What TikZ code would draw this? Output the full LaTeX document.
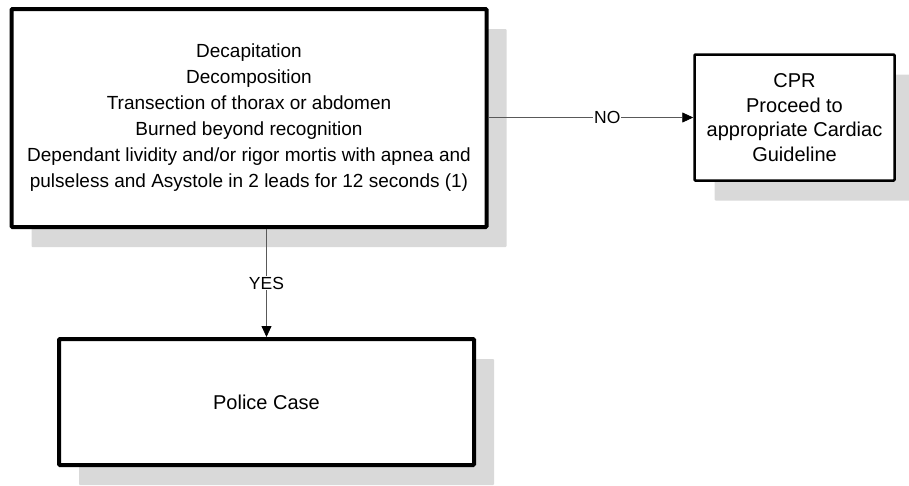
\documentclass[tikz,border=0pt]{standalone}
\usepackage{fontspec}
\setmainfont{Liberation Sans}
\usetikzlibrary{arrows.meta,shadows}

\begin{document}
\begin{tikzpicture}[x=1pt,y=-1pt,
		box/.style={draw,line width=4pt,rounded corners=1pt,fill=white,align=center,inner sep=0pt,
			drop shadow={shadow xshift=20pt,shadow yshift=-20pt,fill=black!15,opacity=1}},
		conn/.style={black!65,line width=0.8pt,-{Triangle[length=11pt,width=10pt,color=black]}},
		lbl/.style={fill=white,inner sep=1pt,text=black,font=\fontsize{17.5}{20}\selectfont}]
		\useasboundingbox (0,0) rectangle (909,485);
		% boxes
		\node[box,minimum width=475pt,minimum height=218pt,font=\fontsize{19}{26}\selectfont] (signs) at (249,118)
			{Decapitation\\Decomposition\\Transection of thorax or abdomen\\Burned beyond recognition\\
			Dependant lividity and/or rigor mortis with apnea and\\pulseless and Asystole in 2 leads for 12 seconds (1)};
		\node[box,line width=2.5pt,minimum width=200pt,minimum height=126pt,font=\fontsize{20}{24.7}\selectfont] (cpr) at (794.5,117.5)
			{CPR\\Proceed to\\appropriate Cardiac\\Guideline};
		\node[box,minimum width=415pt,minimum height=126pt,font=\fontsize{20}{24}\selectfont] (police) at (266.5,402) {Police Case};
		% connectors
		\draw[conn] (signs.east |- cpr.west) -- node[lbl,pos=0.58] {NO} (cpr.west);
		\draw[conn] (police.north |- signs.south) -- node[lbl] {YES} (police.north);
	\end{tikzpicture}
\end{document}
